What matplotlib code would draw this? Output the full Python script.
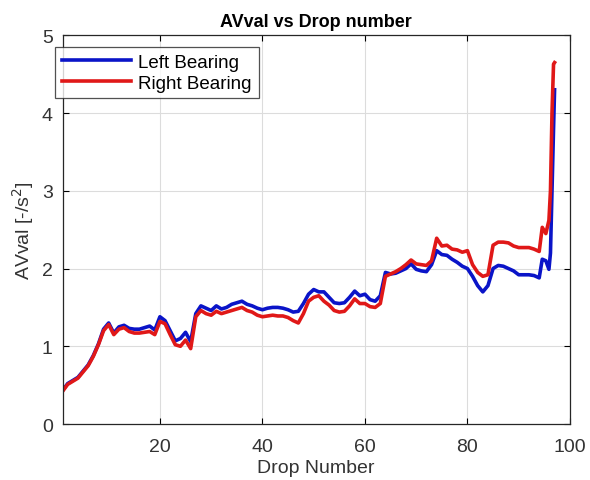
import matplotlib
matplotlib.use("Agg")
import matplotlib.pyplot as plt

drops = [1, 2, 3, 4, 5, 6, 7, 8, 9, 10, 11, 12, 13, 14, 15, 16, 17, 18, 19, 20,
         21, 22, 23, 24, 25, 26, 27, 28, 29, 30, 31, 32, 33, 34, 35, 36, 37, 38, 39, 40,
         41, 42, 43, 44, 45, 46, 47, 48, 49, 50, 51, 52, 53, 54, 55, 56, 57, 58, 59, 60,
         61, 62, 63, 64, 65, 66, 67, 68, 69, 70, 71, 72, 73, 74, 75, 76, 77, 78, 79, 80,
         81, 82, 83, 84, 85, 86, 87, 88, 89, 90, 91, 92, 93, 94, 94.6, 95.3, 95.9,
         96.2, 96.5, 96.8, 97]

left_bearing = [0.43, 0.52, 0.56, 0.60, 0.68, 0.76, 0.88, 1.03, 1.22, 1.30,
                1.17, 1.25, 1.27, 1.23, 1.22, 1.22, 1.24, 1.26, 1.21, 1.38,
                1.33, 1.20, 1.07, 1.10, 1.18, 1.06, 1.42, 1.52, 1.49, 1.46,
                1.52, 1.48, 1.50, 1.54, 1.56, 1.58, 1.54, 1.52, 1.49, 1.47,
                1.49, 1.50, 1.50, 1.49, 1.47, 1.44, 1.45, 1.55, 1.67, 1.73,
                1.70, 1.70, 1.63, 1.56, 1.55, 1.56, 1.63, 1.71, 1.65, 1.67,
                1.60, 1.58, 1.65, 1.95, 1.93, 1.94, 1.97, 2.00, 2.06, 1.99,
                1.97, 1.96, 2.05, 2.23, 2.18, 2.17, 2.12, 2.08, 2.03, 2.00,
                1.90, 1.78, 1.70, 1.78, 2.00, 2.04, 2.03, 2.00, 1.97, 1.92,
                1.92, 1.92, 1.91, 1.88, 2.12, 2.10, 1.99,
                2.20, 3.00, 3.80, 4.30]

right_bearing = [0.42, 0.51, 0.55, 0.59, 0.67, 0.75, 0.87, 1.02, 1.20, 1.28,
                 1.15, 1.22, 1.24, 1.19, 1.17, 1.17, 1.18, 1.19, 1.15, 1.32,
                 1.29, 1.15, 1.02, 1.00, 1.08, 0.97, 1.38, 1.46, 1.42, 1.40,
                 1.45, 1.42, 1.44, 1.46, 1.48, 1.50, 1.46, 1.44, 1.40, 1.38,
                 1.39, 1.40, 1.39, 1.39, 1.37, 1.33, 1.30, 1.42, 1.58, 1.63,
                 1.65, 1.58, 1.53, 1.46, 1.44, 1.45, 1.52, 1.61, 1.55, 1.55,
                 1.51, 1.50, 1.55, 1.90, 1.93, 1.96, 2.00, 2.05, 2.11, 2.06,
                 2.05, 2.04, 2.10, 2.39, 2.29, 2.30, 2.25, 2.24, 2.21, 2.23,
                 2.05, 1.95, 1.90, 1.92, 2.30, 2.34, 2.34, 2.33, 2.29, 2.27,
                 2.27, 2.27, 2.25, 2.22, 2.53, 2.45, 2.62,
                 3.00, 4.00, 4.63, 4.65]

x_ticks = [20, 40, 60, 80, 100]
y_ticks = [0, 1, 2, 3, 4, 5]

plt.rcParams['font.family'] = ['Liberation Sans', 'DejaVu Sans']

fig = plt.figure(figsize=(5.90, 4.81), dpi=100)
ax = fig.add_axes([0.106, 0.1164, 0.860, 0.808])

ax.plot(drops, left_bearing, color='#0a14c8', lw=2.6, label='Left Bearing')
ax.plot(drops, right_bearing, color='#e01818', lw=2.6, label='Right Bearing')

ax.set_xlim(1, 100)
ax.set_ylim(0, 5)
ax.set_xticks(x_ticks)
ax.set_yticks(y_ticks)
ax.grid(True, color='#dcdcdc', lw=0.8)
ax.set_axisbelow(True)
ax.tick_params(direction='in', top=True, right=True, labelsize=14,
               labelcolor='#333333', length=4, width=0.8)
ax.tick_params(axis='x', pad=10)
ax.tick_params(axis='y', pad=7)
for s in ax.spines.values():
    s.set_color('#262626')
    s.set_linewidth(0.9)

ax.set_title('AVval vs Drop number', fontsize=13, fontweight='bold', pad=7)
ax.set_xlabel('Drop Number', fontsize=14, color='#333333', labelpad=3)
ax.set_ylabel('AVval [-/s$^2$]', fontsize=14, color='#333333', labelpad=4)

leg = ax.legend(loc='upper left', bbox_to_anchor=(55 / 590, 1 - 48 / 481),
                bbox_transform=fig.transFigure, fontsize=13.5, handlelength=3.7,
                frameon=True, fancybox=False, edgecolor='#262626',
                borderpad=0.35, labelspacing=0.2, handletextpad=0.4,
                borderaxespad=0)
leg.get_frame().set_linewidth(0.9)

fig.savefig('out.png', dpi=100, facecolor='white')
